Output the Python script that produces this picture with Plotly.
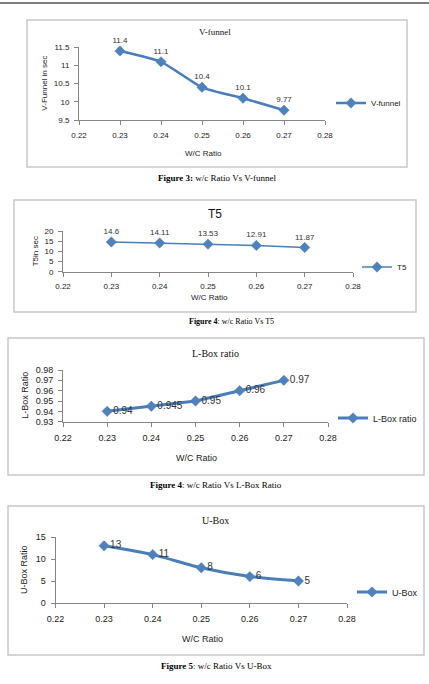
import plotly.graph_objects as go

W, H = 429, 684

wc_ratio = [0.23, 0.24, 0.25, 0.26, 0.27]
vfunnel = [11.4, 11.1, 10.4, 10.1, 9.77]
t5 = [14.6, 14.11, 13.53, 12.91, 11.87]
lbox = [0.94, 0.945, 0.95, 0.96, 0.97]
ubox = [13, 11, 8, 6, 5]

vfunnel_labels = ["11.4", "11.1", "10.4", "10.1", "9.77"]
t5_labels = ["14.6", "14.11", "13.53", "12.91", "11.87"]
lbox_labels = ["0.94", "0.945", "0.95", "0.96", "0.97"]
ubox_labels = ["13", "11", "8", "6", "5"]

BLUE = "#4A7EBB"
SANS = "Liberation Sans"
SERIF = "Liberation Serif"


def fx(px):
    return px / W


def fy(py):
    return 1 - py / H


fig = go.Figure()

charts = [
    dict(y=vfunnel, text=vfunnel_labels, name="V-funnel", tpos="top center", shape="spline", lw=2.5,
         xd=(79, 325), yd=(120, 47.3), yr=[9.5, 11.5], dy=0.5, fs=8, lfs=8,
         leg=(331, 103), title="V-funnel", tfont=SERIF, tsize=9, ty=32,
         ytitle="V-Funnel in sec", ytx=45, xtitle_y=153, xtitle_x=203,
         box=(27, 20, 407, 167), caption="<b>Figure 3:</b> w/c Ratio Vs V-funnel", cy=178, cx=217, cs=9,
         tfmt=None),
    dict(y=t5, text=t5_labels, name="T5", tpos="top center", shape="linear", lw=1.5,
         xd=(63, 353), yd=(271.7, 231), yr=[0, 20], dy=5, fs=8, lfs=8,
         leg=(357, 267), title="T5", tfont=SANS, tsize=12, ty=214,
         ytitle="T5in sec", ytx=35, xtitle_y=298, xtitle_x=209,
         box=(14, 200, 416, 312), caption="<b>Figure 4</b>: w/c Ratio Vs T5", cy=321, cx=231, cs=8,
         tfmt=None),
    dict(y=lbox, text=lbox_labels, name="L-Box ratio", tpos="middle right", shape="linear", lw=3,
         xd=(63, 328), yd=(421.7, 370), yr=[0.93, 0.98], dy=0.01, fs=10, lfs=9,
         leg=(333, 418), title="L-Box ratio", tfont=SERIF, tsize=10, ty=353,
         ytitle="L-Box Ratio", ytx=25, xtitle_y=458, xtitle_x=196,
         box=(8, 338, 424, 475), caption="<b>Figure 4</b>: w/c Ratio Vs L-Box Ratio", cy=485, cx=216, cs=9,
         tfmt=".2f"),
    dict(y=ubox, text=ubox_labels, name="U-Box", tpos="middle right", shape="spline", lw=3,
         xd=(55.5, 347), yd=(603, 537), yr=[0, 15], dy=5, fs=10, lfs=9,
         leg=(352, 592), title="U-Box", tfont=SERIF, tsize=10, ty=520,
         ytitle="U-Box Ratio", ytx=24, xtitle_y=639, xtitle_x=202,
         box=(8, 506, 424, 655), caption="<b>Figure 5</b>: w/c Ratio Vs U-Box", cy=666, cx=216, cs=9,
         tfmt=None),
]

layout = dict(
    width=W, height=H, margin=dict(l=0, r=0, t=0, b=0, autoexpand=False),
    paper_bgcolor="white", plot_bgcolor="rgba(0,0,0,0)", showlegend=True,
    shapes=[], annotations=[],
)


def ann(text, x, y, font, angle=0):
    return dict(text=text, xref="paper", yref="paper", x=fx(x), y=fy(y),
                xanchor="center", yanchor="middle", showarrow=False,
                textangle=angle, font=font)


for i, c in enumerate(charts):
    n = i + 1
    xa = "x" if n == 1 else f"x{n}"
    ya = "y" if n == 1 else f"y{n}"
    legname = "legend" if n == 1 else f"legend{n}"
    fig.add_trace(go.Scatter(
        x=wc_ratio, y=c["y"], mode="lines+markers+text", name=c["name"],
        text=c["text"], textposition=c["tpos"],
        textfont=dict(family=SANS, size=c["fs"], color="#333333"),
        line=dict(color=BLUE, width=c["lw"], shape=c["shape"], smoothing=0.6),
        marker=dict(symbol="diamond", size=8, color="#4F81BD", line=dict(color=BLUE, width=0.5)),
        xaxis=xa, yaxis=ya, legend=legname, cliponaxis=False, showlegend=True,
    ))
    xkey = "xaxis" if n == 1 else f"xaxis{n}"
    ykey = "yaxis" if n == 1 else f"yaxis{n}"
    layout[xkey] = dict(
        domain=[fx(c["xd"][0]), fx(c["xd"][1])], range=[0.22, 0.28], dtick=0.01, tick0=0.22,
        tickformat=".2f", anchor=ya, showline=True, linecolor="#868686", linewidth=1,
        ticks="outside", ticklen=4, tickcolor="#868686", showgrid=False, zeroline=False,
        tickfont=dict(family=SANS, size=c["lfs"], color="#222222"), ticklabelstandoff=3,
    )
    yax = dict(
        domain=[fy(c["yd"][0]), fy(c["yd"][1])], range=c["yr"], dtick=c["dy"], tick0=c["yr"][0],
        anchor=xa, showline=True, linecolor="#868686", linewidth=1,
        ticks="outside", ticklen=4, tickcolor="#868686", showgrid=False, zeroline=False,
        tickfont=dict(family=SANS, size=c["lfs"], color="#222222"), ticklabelstandoff=3,
    )
    if c["tfmt"]:
        yax["tickformat"] = c["tfmt"]
    layout[ykey] = yax
    layout[legname] = dict(
        x=fx(c["leg"][0]), y=fy(c["leg"][1]), xanchor="left", yanchor="middle",
        font=dict(family=SANS, size=c["lfs"], color="#222222"), bgcolor="rgba(0,0,0,0)",
        itemwidth=30,
    )
    x0, y0, x1, y1 = c["box"]
    layout["shapes"].append(dict(type="rect", xref="paper", yref="paper",
                                 x0=fx(x0), x1=fx(x1), y0=fy(y1), y1=fy(y0),
                                 line=dict(color="#C8C8C8", width=1.5), layer="below"))
    layout["annotations"].append(ann(c["title"], 215, c["ty"],
                                     dict(family=c["tfont"], size=c["tsize"], color="#111111")))
    layout["annotations"].append(ann(c["ytitle"], c["ytx"], (c["yd"][0] + c["yd"][1]) / 2,
                                     dict(family=SANS, size=c["lfs"], color="#222222"), angle=-90))
    layout["annotations"].append(ann("W/C Ratio", c["xtitle_x"], c["xtitle_y"],
                                     dict(family=SANS, size=c["lfs"], color="#222222")))
    layout["annotations"].append(ann(c["caption"], c["cx"], c["cy"],
                                     dict(family=SERIF, size=c["cs"], color="#000000")))

layout["shapes"].append(dict(type="line", xref="paper", yref="paper", x0=0, x1=1,
                             y0=fy(3), y1=fy(3), line=dict(color="#555555", width=1.5)))

fig.update_layout(**layout)
fig.write_html("out.html")
